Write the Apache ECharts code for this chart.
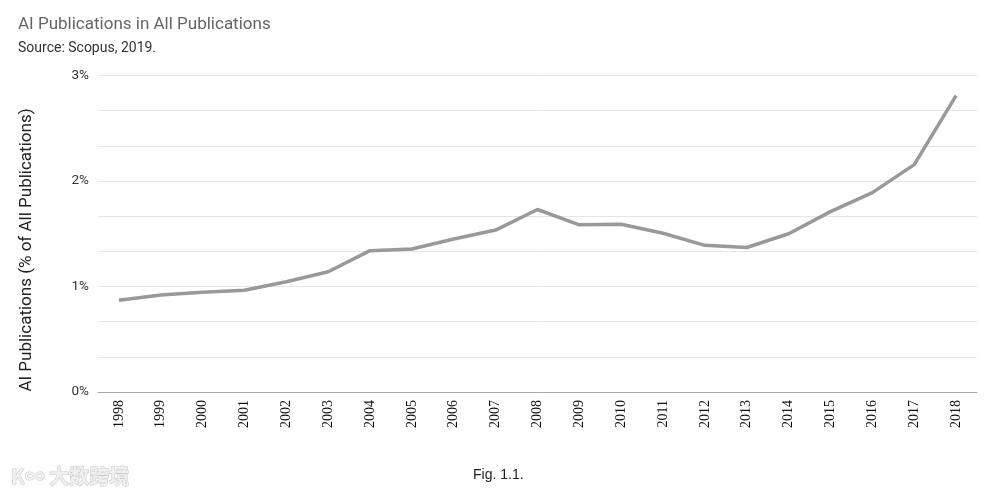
<!DOCTYPE html>
<html>
<head>
<meta charset="utf-8">
<script src="https://cdn.jsdelivr.net/npm/echarts@6/dist/echarts.min.js"></script>
<style>html,body{margin:0;padding:0;background:#fff;}#c{width:993px;height:495px;}</style>
</head>
<body>
<div id="c"></div>
<script>
const years = ['1998','1999','2000','2001','2002','2003','2004','2005','2006','2007','2008','2009','2010','2011','2012','2013','2014','2015','2016','2017','2018'];
const aiShare = [0.87,0.92,0.945,0.965,1.045,1.14,1.34,1.355,1.45,1.535,1.73,1.585,1.59,1.505,1.39,1.37,1.50,1.71,1.89,2.155,2.81];
const yTicks = [0,1,2,3];
const yAxisTitle = 'AI Publications (% of All Publications)';

const chart = echarts.init(document.getElementById('c'));
chart.setOption({
  animation: false,
  backgroundColor: '#fff',
  title: [
    {text: 'AI Publications in All Publications', left: 13, top: 11,
     textStyle: {fontFamily: 'Roboto', fontSize: 17, fontWeight: 'normal', color: '#666'}},
    {text: 'Source: Scopus, 2019.', left: 13, top: 36,
     textStyle: {fontFamily: 'Roboto', fontSize: 14, fontWeight: 'normal', color: '#333'}},
    {text: 'Fig. 1.1.', left: 468, top: 463,
     textStyle: {fontFamily: 'Liberation Sans', fontSize: 14, fontWeight: 'normal', color: '#222'}},
    {text: 'K∞ 大数跨境', left: 6, top: 461,
     textStyle: {fontFamily: 'Noto Sans CJK SC', fontSize: 20, fontWeight: 'bold', color: '#f0f0f0',
       textBorderColor: '#c8c8c8', textBorderWidth: 1}}
  ],
  graphic: [{
    type: 'text', x: 27, y: 250, rotation: Math.PI / 2,
    style: {text: yAxisTitle, fontFamily: 'Roboto', fontSize: 17, fill: '#222',
            align: 'center', verticalAlign: 'middle'}
  }],
  grid: {left: 98, right: 16, top: 75.5, bottom: 103},
  xAxis: {
    type: 'category',
    data: years,
    boundaryGap: true,
    axisLine: {show: true, lineStyle: {color: '#aaa', width: 1}},
    axisTick: {show: false},
    axisLabel: {rotate: 90, margin: 8, fontFamily: 'Liberation Serif', fontSize: 14, color: '#111'}
  },
  yAxis: {
    type: 'value',
    min: yTicks[0], max: yTicks[yTicks.length - 1], interval: 1,
    axisLine: {show: false},
    axisTick: {show: false},
    axisLabel: {formatter: v => v + '%', margin: 9, fontFamily: 'Roboto', fontSize: 13.5, color: '#333'},
    splitLine: {show: true, lineStyle: {color: '#e6e6e6', width: 1}},
    minorTick: {show: false, splitNumber: 3},
    minorSplitLine: {show: true, lineStyle: {color: '#e6e6e6', width: 1}}
  },
  series: [{
    type: 'line',
    data: aiShare,
    symbol: 'none',
    lineStyle: {color: '#999', width: 3.5},
    itemStyle: {color: '#999'}
  }]
});
</script>
</body>
</html>
